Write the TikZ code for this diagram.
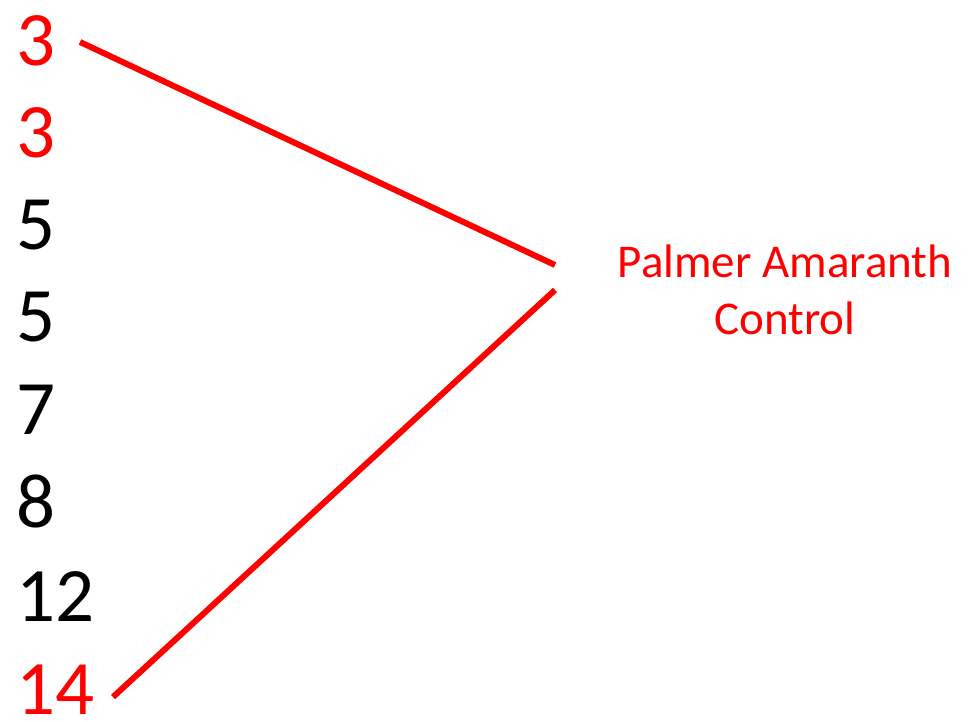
\documentclass[tikz,border=0pt]{standalone}
\usepackage{fontspec}
\setmainfont{Carlito}
\definecolor{pred}{RGB}{255,0,0}
\begin{document}
\begin{tikzpicture}[x=1pt,y=-1pt,
  num/.style={anchor=base west,inner sep=0pt,font=\fontsize{77}{77}\selectfont},
  lbl/.style={align=center,inner sep=0pt,text=pred,font=\fontsize{47}{57}\selectfont},
  conn/.style={draw=pred,line width=6pt}]
\useasboundingbox (0,0) rectangle (980,721);
\node[num,text=pred] (n1) at (16,65) {3};
\node[num,text=pred] (n2) at (16,157) {3};
\node[num] (n3) at (16,249) {5};
\node[num] (n4) at (16,341) {5};
\node[num] (n5) at (16,434) {7};
\node[num] (n6) at (16,527) {8};
\node[num] (n7) at (16,621) {12};
\node[num,text=pred] (n8) at (16,714) {14};
\node[lbl] (pa) at (785,290) {Palmer Amaranth\\Control};
\coordinate (a1) at (80,42);
\coordinate (b1) at (555,265);
\coordinate (a2) at (555,290);
\coordinate (b2) at (113,697);
\draw[conn] (a1) -- (b1);
\draw[conn] (a2) -- (b2);
\end{tikzpicture}
\end{document}
